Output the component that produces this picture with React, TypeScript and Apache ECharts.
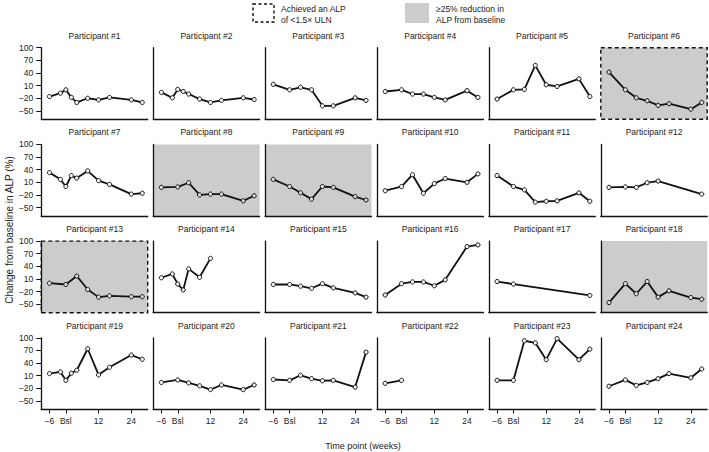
import React, { useEffect, useRef } from "react";
import * as echarts from "echarts";

// Time points (weeks relative to baseline)
const weeksDense = [-6, -2, 0, 2, 4, 8, 12, 16, 24, 28];
const weeksStd = [-6, 0, 4, 8, 12, 16, 24, 28];
const weeks12 = [-6, 0, 4, 8, 12, 28];
const weeks14 = [-6, -2, 0, 2, 4, 8, 12];
const weeks17 = [-6, 0, 28];
const weeks22 = [-6, 0];

// Change from baseline in ALP (%)
const p1 = [-16, -8, 0, -18, -30, -20, -24, -18, -24, -30];
const p2 = [-6, -19, 1, -4, -10, -22, -30, -25, -19, -23];
const p3 = [13, 0, 6, 0, -38, -38, -19, -25];
const p4 = [-4, 0, -10, -10, -18, -24, -2, -18];
const p5 = [-22, 0, 1, 58, 12, 8, 26, -16];
const p6 = [42, 0, -19, -26, -37, -33, -46, -30];
const p7 = [33, 17, 0, 26, 20, 37, 14, 5, -18, -16];
const p8 = [-2, -1, 9, -20, -18, -18, -34, -22];
const p9 = [17, 0, -15, -30, 0, -2, -24, -32];
const p10 = [-10, 0, 28, -16, 7, 19, 10, 30];
const p11 = [26, 0, -8, -37, -35, -34, -15, -35];
const p12 = [-2, -1, -2, 9, 13, -18];
const p13 = [0, -3, 17, -15, -33, -30, -32, -32];
const p14 = [13, 22, -2, -16, 34, 14, 59];
const p15 = [-3, -3, -7, -12, -1, -11, -23, -33];
const p16 = [-28, -1, 3, 3, -6, 8, 87, 91];
const p17 = [4, -2, -29];
const p18 = [-46, -1, -25, 4, -33, -18, -34, -38];
const p19 = [15, 19, -1, 16, 23, 74, 12, 30, 59, 49];
const p20 = [-6, 0, -7, -14, -23, -12, -23, -12];
const p21 = [1, -1, 11, 3, -2, -1, -17, 66];
const p22 = [-8, -1];
const p23 = [-1, -1, 93, 88, 48, 98, 48, 73];
const p24 = [-15, 0, -13, -6, 3, 15, 5, 26];

const participantNames = Array.from({ length: 24 }, (_, i) => `Participant #${i + 1}`);
const participantWeeks = [
  weeksDense, weeksDense, weeksStd, weeksStd, weeksStd, weeksStd,
  weeksDense, weeksStd, weeksStd, weeksStd, weeksStd, weeks12,
  weeksStd, weeks14, weeksStd, weeksStd, weeks17, weeksStd,
  weeksDense, weeksStd, weeksStd, weeks22, weeksStd, weeksStd,
];
const participantValues = [
  p1, p2, p3, p4, p5, p6, p7, p8, p9, p10, p11, p12,
  p13, p14, p15, p16, p17, p18, p19, p20, p21, p22, p23, p24,
];
// >=25% reduction in ALP from baseline
const reducedParticipants = [6, 8, 9, 13, 18];
// Achieved an ALP of <1.5x ULN
const ulnParticipants = [6, 13];

const yTicks = [-50, -20, 10, 40, 70, 100];
const xTicks = [-6, 0, 12, 24];
const xTickLabels: Record<number, string> = { [-6]: "\u22126", 0: "Bsl", 12: "12", 24: "24" };

const FONT = "'Liberation Sans', Arial, Helvetica, sans-serif";

export default function App() {
  const ref = useRef<HTMLDivElement>(null);
  useEffect(() => {
    if (!ref.current) return;
    const chart = echarts.init(ref.current, undefined, { renderer: "svg" });

    const left0 = 41.3;
    const colStep = 111.9;
    const top0 = 47.7;
    const rowStep = 96.7;
    const w = 106.4;
    const h = 71.6;
    const GRAY = "#cccccc";

    const grids: any[] = [];
    const xAxes: any[] = [];
    const yAxes: any[] = [];
    const series: any[] = [];
    const graphics: any[] = [];

    for (let i = 0; i < 24; i++) {
      const row = Math.floor(i / 6);
      const col = i % 6;
      const id = i + 1;
      const left = left0 + col * colStep;
      const top = top0 + row * rowStep;
      const shaded = reducedParticipants.includes(id);
      const dashed = ulnParticipants.includes(id);
      grids.push({
        left,
        top,
        width: w,
        height: h,
        show: shaded || dashed,
        backgroundColor: shaded ? GRAY : "transparent",
        borderColor: dashed ? "#111" : "transparent",
        borderWidth: dashed ? 1.4 : 0,
        borderType: dashed ? [4, 3] : "solid",
      });
      const firstCol = col === 0;
      const lastRow = row === 3;
      xAxes.push({
        type: "value",
        gridIndex: i,
        min: -9,
        max: 30,
        splitLine: { show: false },
        axisLine: { show: !dashed, onZero: false, lineStyle: { color: "#111", width: 1.3 } },
        axisTick: {
          show: lastRow,
          length: 4,
          customValues: xTicks,
          lineStyle: { color: "#111", width: 1 },
        },
        axisLabel: {
          show: lastRow,
          customValues: xTicks,
          margin: 7,
          fontSize: 8.5,
          fontFamily: FONT,
          color: "#222",
          formatter: (v: number) => xTickLabels[v] ?? String(v),
        },
      });
      yAxes.push({
        type: "value",
        gridIndex: i,
        min: -70,
        max: 100,
        splitLine: { show: false },
        axisLine: { show: id !== 6, onZero: false, lineStyle: { color: "#111", width: 1.3 } },
        axisTick: {
          show: firstCol,
          length: 5,
          customValues: yTicks,
          lineStyle: { color: "#111", width: 1 },
        },
        axisLabel: {
          show: firstCol,
          customValues: yTicks,
          margin: 8,
          fontSize: 8.5,
          fontFamily: FONT,
          color: "#222",
          formatter: (v: number) => (v < 0 ? "\u2212" + Math.abs(v) : String(v)),
        },
      });
      const wk = participantWeeks[i];
      const vals = participantValues[i];
      series.push({
        type: "line",
        xAxisIndex: i,
        yAxisIndex: i,
        data: wk.map((x, k) => [x, vals[k]]),
        symbol: "circle",
        symbolSize: 4.2,
        lineStyle: { color: "#111", width: 1.8 },
        itemStyle: { color: shaded ? "#d8d8d8" : "#f2f2f2", borderColor: "#111", borderWidth: 1 },
        z: 3,
      });
      graphics.push({
        type: "text",
        x: left + w / 2,
        y: top - 12,
        style: {
          text: participantNames[i],
          fontSize: 8.5,
          fontFamily: FONT,
          fill: "#222",
          align: "center",
          verticalAlign: "middle",
        },
      });
    }

    // axis titles
    graphics.push({
      type: "text",
      x: 9,
      y: 230,
      rotation: Math.PI / 2,
      style: {
        text: "Change from baseline in ALP (%)",
        fontSize: 10,
        fontFamily: FONT,
        fill: "#222",
        align: "center",
        verticalAlign: "middle",
      },
    });
    graphics.push({
      type: "text",
      x: 363,
      y: 446,
      style: {
        text: "Time point (weeks)",
        fontSize: 9,
        fontFamily: FONT,
        fill: "#222",
        align: "center",
        verticalAlign: "middle",
      },
    });

    // legend
    graphics.push({
      type: "rect",
      shape: { x: 253, y: 4, width: 21, height: 18 },
      style: { fill: "none", stroke: "#111", lineWidth: 1.4, lineDash: [3, 2.5] },
    });
    graphics.push({
      type: "text",
      x: 281,
      y: 3,
      style: {
        text: "Achieved an ALP\nof <1.5\u00d7 ULN",
        fontSize: 8.5,
        lineHeight: 11,
        fontFamily: FONT,
        fill: "#222",
        align: "left",
        verticalAlign: "top",
      },
    });
    graphics.push({
      type: "rect",
      shape: { x: 405, y: 3, width: 24, height: 20 },
      style: { fill: GRAY, stroke: "none" },
    });
    graphics.push({
      type: "text",
      x: 436,
      y: 3,
      style: {
        text: "\u226525% reduction in\nALP from baseline",
        fontSize: 8.5,
        lineHeight: 11,
        fontFamily: FONT,
        fill: "#222",
        align: "left",
        verticalAlign: "top",
      },
    });

    chart.setOption({
      animation: false,
      backgroundColor: "#ffffff",
      grid: grids,
      xAxis: xAxes,
      yAxis: yAxes,
      series,
      graphic: graphics,
    });
    return () => chart.dispose();
  }, []);

  return <div ref={ref} style={{ width: 709, height: 452, position: "absolute", left: 0, top: 0 }} />;
}
